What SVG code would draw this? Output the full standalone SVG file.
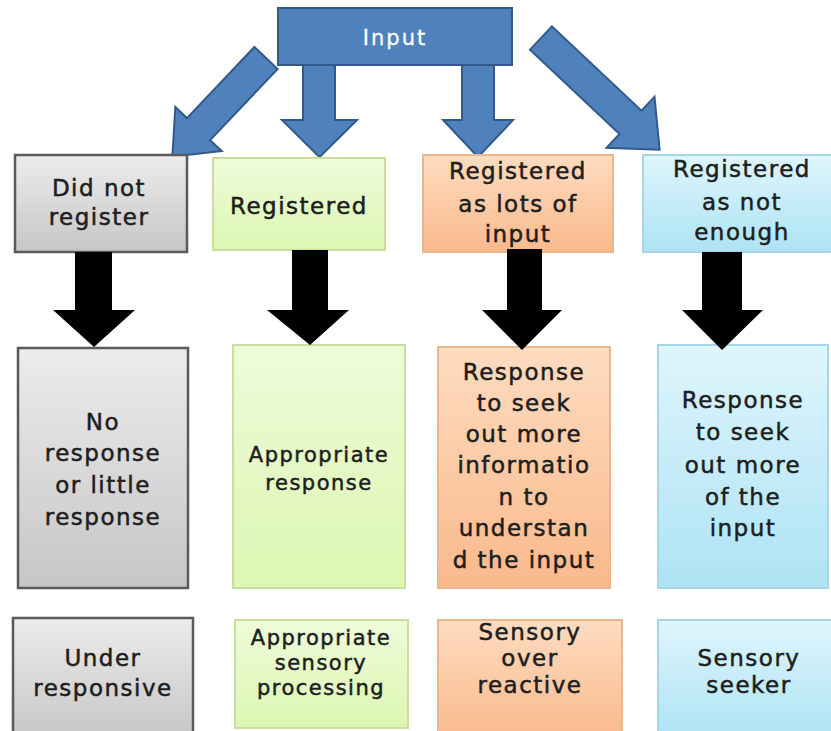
<svg xmlns="http://www.w3.org/2000/svg" width="831" height="731" viewBox="0 0 831 731">
<defs>
<linearGradient id="gGray" x1="0" y1="0" x2="0" y2="1"><stop offset="0" stop-color="#ececec"/><stop offset="1" stop-color="#c6c6c6"/></linearGradient>
<linearGradient id="gGreen" x1="0" y1="0" x2="0" y2="1"><stop offset="0" stop-color="#eefbd9"/><stop offset="1" stop-color="#dcf6b2"/></linearGradient>
<linearGradient id="gOrange" x1="0" y1="0" x2="0" y2="1"><stop offset="0" stop-color="#fddcc0"/><stop offset="1" stop-color="#f9b98c"/></linearGradient>
<linearGradient id="gBlue" x1="0" y1="0" x2="0" y2="1"><stop offset="0" stop-color="#def5fc"/><stop offset="1" stop-color="#ade3f4"/></linearGradient>
</defs>
<style>
.t{font-family:"DejaVu Sans","Liberation Sans",sans-serif;font-size:23px;letter-spacing:1.5px;fill:#1e1e1e;stroke:#1e1e1e;stroke-width:0.5;text-anchor:middle}
.s{font-size:21px}
.gray{fill:url(#gGray);stroke:#5a5a5a;stroke-width:2.5}
.green{fill:url(#gGreen);stroke:#c8dea0;stroke-width:2}
.orange{fill:url(#gOrange);stroke:#e9b690;stroke-width:2}
.blue{fill:url(#gBlue);stroke:#a9d6e6;stroke-width:2}
.barrow{fill:#4f81bd;stroke:#33598a;stroke-width:2}
.karrow{fill:#000}
</style>
<rect width="831" height="731" fill="#ffffff"/>

<g id="blue-arrows">
<path class="barrow" d="M0,-16 L98,-16 L98,-32 L136,0 L98,32 L98,16 L0,16 Z" transform="translate(266,58) rotate(133.5)"/>
<path class="barrow" d="M0,-16 L123,-16 L123,-35 L163,0 L123,35 L123,16 L0,16 Z" transform="translate(541,38) rotate(43.3)"/>
<path class="barrow" d="M303,62 L335,62 L335,120 L357,120 L319.5,157 L282,120 L303,120 Z"/>
<path class="barrow" d="M462,62 L494,62 L494,120 L513,120 L478,157 L443,120 L462,120 Z"/>
</g>

<g id="input">
<rect x="278" y="8" width="234" height="57" fill="#4f81bd" stroke="#33598a" stroke-width="2"/>
<text class="t s" x="395" y="45" style="fill:#ffffff;stroke:#ffffff;stroke-width:0.3;letter-spacing:2px">Input</text>
</g>

<g id="did-not-register">
<rect class="gray" x="15" y="155" width="172" height="97"/>
<text class="t" x="99" y="196">Did not</text>
<text class="t" x="99" y="225">register</text>
</g>
<g id="registered">
<rect class="green" x="213" y="158" width="172" height="92"/>
<text class="t" x="299" y="214">Registered</text>
</g>
<g id="registered-lots">
<rect class="orange" x="423" y="155" width="190" height="97"/>
<text class="t" x="518" y="179">Registered</text>
<text class="t" x="518" y="212">as lots of</text>
<text class="t" x="518" y="242">input</text>
</g>
<g id="registered-not-enough">
<rect class="blue" x="643" y="155" width="190" height="97"/>
<text class="t" x="742" y="177">Registered</text>
<text class="t" x="742" y="210">as not</text>
<text class="t" x="742" y="240">enough</text>
</g>

<g id="no-response">
<rect class="gray" x="18" y="348" width="170" height="240"/>
<text class="t" x="103" y="430">No</text>
<text class="t" x="103" y="461">response</text>
<text class="t" x="103" y="493">or little</text>
<text class="t" x="103" y="525">response</text>
</g>
<g id="appropriate-response">
<rect class="green" x="233" y="345" width="172" height="243"/>
<text class="t s" x="319" y="462">Appropriate</text>
<text class="t s" x="319" y="490">response</text>
</g>
<g id="seek-information">
<rect class="orange" x="438" y="347" width="172" height="241"/>
<text class="t" x="524" y="380">Response</text>
<text class="t" x="524" y="411">to seek</text>
<text class="t" x="524" y="442">out more</text>
<text class="t" x="524" y="473">informatio</text>
<text class="t" x="524" y="505">n to</text>
<text class="t" x="524" y="536">understan</text>
<text class="t" x="524" y="568">d the input</text>
</g>
<g id="seek-input">
<rect class="blue" x="658" y="345" width="170" height="243"/>
<text class="t" x="743" y="408">Response</text>
<text class="t" x="743" y="440">to seek</text>
<text class="t" x="743" y="473">out more</text>
<text class="t" x="743" y="505">of the</text>
<text class="t" x="743" y="536">input</text>
</g>

<g id="under-responsive">
<rect class="gray" x="13" y="618" width="180" height="120"/>
<text class="t" x="103" y="666">Under</text>
<text class="t" x="103" y="696">responsive</text>
</g>
<g id="appropriate-processing">
<rect class="green" x="235" y="620" width="173" height="108"/>
<text class="t s" x="321" y="645">Appropriate</text>
<text class="t s" x="321" y="670">sensory</text>
<text class="t s" x="321" y="695">processing</text>
</g>
<g id="over-reactive">
<rect class="orange" x="438" y="620" width="184" height="120"/>
<text class="t" x="530" y="640">Sensory</text>
<text class="t" x="530" y="666">over</text>
<text class="t" x="530" y="693">reactive</text>
</g>
<g id="sensory-seeker">
<rect class="blue" x="658" y="620" width="180" height="120"/>
<text class="t" x="749" y="666">Sensory</text>
<text class="t" x="749" y="693">seeker</text>
</g>

<g id="connectors">
<path class="karrow" d="M75,252 L112,252 L112,310 L135,310 L94,347 L53,310 L75,310 Z"/>
<path class="karrow" d="M292,250 L328,250 L328,310 L349,310 L310,345 L267,310 L292,310 Z"/>
<path class="karrow" d="M507,249 L542,249 L542,310 L562,310 L522,350 L482,310 L507,310 Z"/>
<path class="karrow" d="M702,252 L742,252 L742,310 L763,310 L722,350 L682,310 L702,310 Z"/>
</g>
</svg>
